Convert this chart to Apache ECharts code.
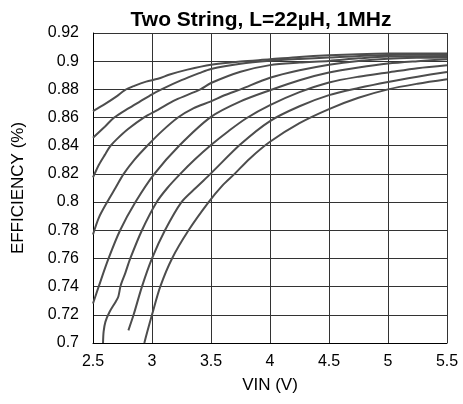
<!DOCTYPE html>
<html lang="en">
<head>
  <meta charset="UTF-8">
  <title>Two String efficiency</title>
  <script src="https://cdn.jsdelivr.net/npm/echarts@6/dist/echarts.min.js"></script>
  <style>
    html, body { margin: 0; padding: 0; background: #fff; }
    #main { width: 463px; height: 404px; }
  </style>
</head>
<body>
<div id="main"></div>
<script>
  // efficiency curves, [VIN, efficiency]
  var curve1 = [[2.5,0.8645],[2.6,0.8695],[2.7,0.875],[2.77,0.8795],[2.85,0.8825],[2.95,0.8855],[3.05,0.8875],[3.15,0.8905],[3.3,0.894],[3.5,0.8975],[3.75,0.8998],[4.0,0.9013],[4.25,0.903],[4.5,0.9042],[4.75,0.905],[5.0,0.9054],[5.5,0.9054]];
  var curve2 = [[2.5,0.8456],[2.6,0.8535],[2.68,0.86],[2.8,0.8665],[2.9,0.8715],[3.0,0.8765],[3.08,0.88],[3.25,0.8865],[3.4,0.8915],[3.5,0.8945],[3.75,0.8982],[4.0,0.9003],[4.25,0.9016],[4.5,0.9026],[5.0,0.9044],[5.5,0.9047]];
  var curve3 = [[2.5,0.8175],[2.55,0.8265],[2.6,0.8335],[2.65,0.84],[2.7,0.8445],[2.8,0.852],[2.93,0.86],[3.05,0.8655],[3.2,0.8725],[3.41,0.88],[3.5,0.8845],[3.75,0.8925],[4.0,0.8972],[4.25,0.899],[4.5,0.9002],[4.75,0.902],[5.0,0.9033],[5.5,0.9037]];
  var curve4 = [[2.5,0.777],[2.55,0.789],[2.62,0.80],[2.69,0.81],[2.76,0.82],[2.85,0.83],[2.96,0.84],[3.08,0.85],[3.22,0.86],[3.35,0.8665],[3.5,0.8715],[3.62,0.876],[3.75,0.88],[4.0,0.8882],[4.25,0.8935],[4.5,0.8975],[4.75,0.9002],[5.0,0.9018],[5.25,0.9024],[5.5,0.9026]];
  var curve5 = [[2.5,0.728],[2.548,0.74],[2.632,0.76],[2.73,0.78],[2.86,0.80],[3.02,0.82],[3.23,0.84],[3.5,0.8605],[3.75,0.8715],[4.0,0.8794],[4.25,0.8865],[4.5,0.8919],[4.75,0.8955],[5.0,0.8983],[5.25,0.9],[5.5,0.9014]];
  var curve6 = [[2.585,0.70],[2.59,0.708],[2.605,0.715],[2.64,0.722],[2.69,0.729],[2.715,0.733],[2.735,0.741],[2.775,0.75],[2.816,0.76],[2.915,0.78],[3.04,0.80],[3.13,0.81],[3.24,0.82],[3.36,0.83],[3.5,0.8405],[3.65,0.8505],[3.8,0.8595],[4.0,0.8688],[4.25,0.878],[4.5,0.8849],[4.75,0.889],[5.0,0.892],[5.25,0.895],[5.5,0.8971]];
  var curve7 = [[2.80,0.709],[2.844,0.72],[2.915,0.74],[3.0,0.76],[3.11,0.78],[3.25,0.80],[3.37,0.81],[3.5,0.8204],[3.75,0.841],[4.0,0.8575],[4.25,0.868],[4.5,0.8759],[4.75,0.881],[5.0,0.8853],[5.25,0.889],[5.5,0.8924]];
  var curve8 = [[2.935,0.70],[2.96,0.708],[3.0,0.72],[3.07,0.74],[3.17,0.76],[3.31,0.78],[3.48,0.80],[3.6,0.812],[3.7,0.82],[3.83,0.831],[4.0,0.8428],[4.25,0.856],[4.5,0.866],[4.75,0.874],[5.0,0.88],[5.25,0.884],[5.5,0.8872]];
  var curves = [curve1, curve2, curve3, curve4, curve5, curve6, curve7, curve8];

  var chart = echarts.init(document.getElementById('main'));
  var font = 'Liberation Sans, Arial, sans-serif';

  var series = curves.map(function (c) {
    return {
      type: 'line',
      data: c,
      smooth: 0.3,
      symbol: 'none',
      lineStyle: { color: '#4d4d4d', width: 2 },
      clip: true
    };
  });

  chart.setOption({
    animation: false,
    title: {
      text: 'Two String, L=22µH, 1MHz',
      left: 256,
      top: 5,
      textAlign: 'center',
      textStyle: { fontFamily: font, fontSize: 21, fontWeight: 'bold', color: '#000' }
    },
    grid: { left: 93, right: 16, top: 33, bottom: 61 },
    xAxis: {
      type: 'value',
      min: 2.5, max: 5.5, interval: 0.5,
      name: 'VIN (V)',
      nameLocation: 'middle',
      nameGap: 34,
      nameTextStyle: { fontFamily: font, fontSize: 17, color: '#000' },
      axisLine: { lineStyle: { color: '#000', width: 1 } },
      axisTick: { show: false },
      axisLabel: { fontFamily: font, fontSize: 16, color: '#000', margin: 11 },
      splitLine: { lineStyle: { color: '#333', width: 1 } }
    },
    yAxis: {
      type: 'value',
      min: 0.7, max: 0.92, interval: 0.02,
      name: 'EFFICIENCY (%)',
      nameLocation: 'middle',
      nameGap: 66,
      nameTextStyle: { fontFamily: font, fontSize: 17, color: '#000' },
      axisLine: { show: true, lineStyle: { color: '#000', width: 1 } },
      axisTick: { show: false },
      axisLabel: { fontFamily: font, fontSize: 16, color: '#000', margin: 14 },
      splitLine: { lineStyle: { color: '#333', width: 1 } }
    },
    series: series
  });
</script>
</body>
</html>
